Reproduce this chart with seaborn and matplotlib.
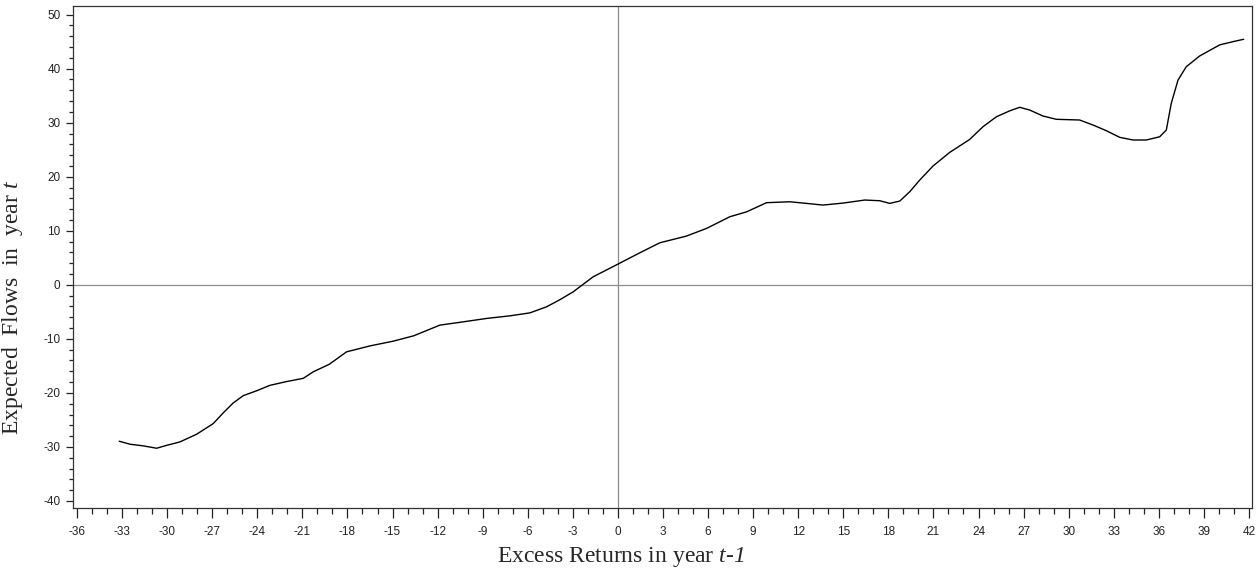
import numpy as np
import pandas as pd
import matplotlib
matplotlib.use("Agg")
import matplotlib.pyplot as plt
from matplotlib.ticker import MultipleLocator
import seaborn as sns

# values
excess_returns = [-33.19, -32.47, -31.59, -30.70, -30.03, -29.15, -28.04, -26.93,
                  -26.27, -25.60, -24.93, -24.04, -23.16, -22.05, -20.94, -20.28,
                  -19.21, -18.06, -16.50, -14.96, -13.60, -11.85, -10.30, -8.74,
                  -7.19, -5.86, -4.75, -3.86, -2.98, -1.65, 0.00, 1.46,
                  2.79, 4.56, 5.90, 7.45, 8.56, 9.89, 11.44, 12.55,
                  13.65, 14.99, 16.43, 17.43, 18.09, 18.76, 19.42, 20.09,
                  20.97, 22.08, 23.41, 24.30, 25.19, 26.08, 26.74, 27.40,
                  28.29, 29.18, 30.73, 31.62, 32.51, 33.39, 34.28, 35.17,
                  36.06, 36.50, 36.83, 37.28, 37.83, 38.72, 40.05, 40.94, 41.65]
expected_flows = [-28.94, -29.50, -29.80, -30.24, -29.70, -29.07, -27.65, -25.67,
                  -23.70, -21.85, -20.50, -19.60, -18.60, -17.90, -17.30, -16.10,
                  -14.70, -12.40, -11.30, -10.43, -9.44, -7.46, -6.85, -6.22,
                  -5.74, -5.19, -4.07, -2.75, -1.30, 1.48, 3.83, 5.93,
                  7.78, 9.02, 10.44, 12.60, 13.50, 15.20, 15.37, 15.07,
                  14.76, 15.13, 15.69, 15.56, 15.07, 15.50, 17.22, 19.39,
                  21.98, 24.50, 26.90, 29.26, 31.10, 32.20, 32.85, 32.35,
                  31.24, 30.63, 30.50, 29.57, 28.52, 27.30, 26.80, 26.80,
                  27.40, 28.65, 33.60, 37.90, 40.37, 42.35, 44.40, 45.00, 45.44]

x_ticks = np.arange(-36, 43, 3)
y_ticks = np.arange(-40, 51, 10)

df = pd.DataFrame({"ret": excess_returns, "flow": expected_flows})

sns.set_style("ticks")
plt.rcParams["font.family"] = ["Liberation Sans", "DejaVu Sans"]
plt.rcParams["axes.unicode_minus"] = False
plt.rcParams["mathtext.fontset"] = "custom"
plt.rcParams["mathtext.rm"] = "Liberation Serif"
plt.rcParams["mathtext.it"] = "Liberation Serif:italic"
# italic digits: 'it' forces digits upright, so use sf slot for italic serif
plt.rcParams["mathtext.sf"] = "Liberation Serif:italic"

fig = plt.figure(figsize=(12.58, 5.75), dpi=100)
ax = fig.add_axes([0.058, 0.1165, 0.9372, 0.8731])

ax.axhline(0, color="#8c8c8c", lw=0.9, zorder=1)
ax.axvline(0, color="#8c8c8c", lw=0.9, zorder=1)
sns.lineplot(data=df, x="ret", y="flow", ax=ax, color="black", lw=1.0, sort=False, zorder=3)

ax.set_xlim(-36.27, 42.2)
ax.set_ylim(-41.3, 51.6)
ax.set_xticks(x_ticks)
ax.set_yticks(y_ticks)
ax.xaxis.set_minor_locator(MultipleLocator(1))
ax.yaxis.set_minor_locator(MultipleLocator(2))
ax.tick_params(axis="x", which="major", length=7, width=0.9, pad=6, labelsize=8.5, colors="#222")
ax.tick_params(axis="x", which="minor", length=4, width=0.9, colors="#222")
ax.tick_params(axis="y", which="major", length=5, width=0.9, pad=4, labelsize=8.5, colors="#222")
ax.tick_params(axis="y", which="minor", length=3, width=0.9, colors="#222")

for side in ["top", "right", "left", "bottom"]:
    ax.spines[side].set_visible(True)
    ax.spines[side].set_color("#333")
    ax.spines[side].set_linewidth(0.9)

serif = ["Liberation Serif", "DejaVu Serif"]
ax.set_xlabel(r"Excess Returns in year $\mathsf{t}$-$\mathsf{1}$", fontsize=17, family=serif, va="center")
ax.set_ylabel(r"Expected  Flows  in  year $\mathsf{t}$", fontsize=17, family=serif, va="center")
ax.xaxis.set_label_coords(0.465, -0.098)
ax.yaxis.set_label_coords(-0.0517, 0.40)

fig.savefig("out.png", dpi=100)
